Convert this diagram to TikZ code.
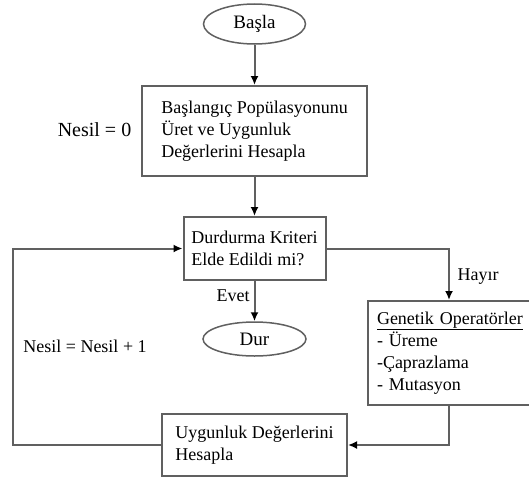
\documentclass[tikz,border=0pt]{standalone}
\usepackage{fontspec}
\setmainfont{Liberation Serif}
\usetikzlibrary{shapes.geometric, arrows.meta, positioning}
\definecolor{linegray}{RGB}{96,96,96}
\tikzset{
  terminal/.style={draw=linegray, ellipse, line width=1.5, minimum width=102,
    minimum height=40, inner sep=0, font=\fontsize{19}{22}\selectfont},
  process/.style={draw=linegray, rectangle, line width=2, align=left,
    inner sep=0, font=\fontsize{18}{22}\selectfont},
  note/.style={inner sep=0, font=\fontsize{18}{22}\selectfont},
  flow/.style={draw=linegray, line width=2,
    -{Latex[length=9, width=8, color=black]}}
}

\begin{document}
\begin{tikzpicture}[x=1pt, y=-1pt]

\useasboundingbox (0,0) rectangle (529,479);
\clip (0,0) rectangle (529,479);

% steps
\node [terminal] (start) at (254.5,24) {Başla};
\node [process, minimum width=225, minimum height=90] (init) at (254.5,131)
  {Başlangıç Popülasyonunu\\Üret ve Uygunluk\\Değerlerini Hesapla};
\node [process, minimum width=142, minimum height=63] (check) at (254.5,248.5)
  {Durdurma Kriteri\\Elde Edildi mi?};
\node [terminal, minimum width=103, minimum height=34] (stop) at (254.5,339) {Dur};
\node [process, anchor=north west, minimum height=104, inner xsep=9,
  text width=165] (genop) at (367,300)
  {\underline{Genetik Operatörler}\\- Üreme\\-Çaprazlama\\- Mutasyon};
\node [process, minimum width=185, minimum height=62] (eval) at (254.5,445)
  {Uygunluk Değerlerini\\Hesapla};

% side texts
\node [note, font=\fontsize{20}{24}\selectfont] (nesilzero) at (94.5,130) {Nesil = 0};
\node [note] (evet) at (233,296) {Evet};
\node [note] (hayir) at (478,277) {Hayır};
\node [note] (nesilinc) at (85,346) {Nesil = Nesil + 1};

\coordinate (opx) at (449,0);
\coordinate (loopx) at (13,0);

% arrows
\draw[flow] (start) -- (init);
\draw[flow] (init) -- (check);
\draw[flow] (check) -- (stop);
\draw[flow] (check.east) -| (opx |- genop.north);
\draw[flow] (opx |- genop.south) |- (eval.east);
\draw[flow] (eval.west) -| (loopx |- check.west) -- (check.west);

\end{tikzpicture}
\end{document}
